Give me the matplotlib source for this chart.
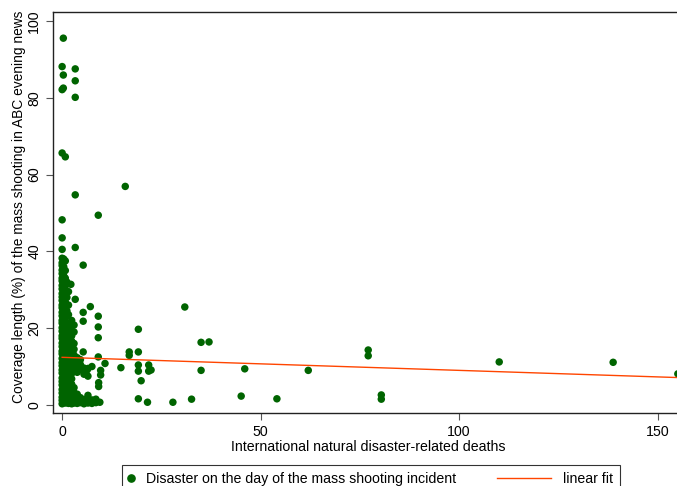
import numpy as np
import matplotlib
matplotlib.use("Agg")
import matplotlib.pyplot as plt
from matplotlib.lines import Line2D
from matplotlib.legend_handler import HandlerBase

plt.rcParams['font.family'] = ['Liberation Sans', 'DejaVu Sans']

# scattered points (deaths, coverage %)
outlier_x = [0.3, 0.0, 3.3, 0.3, 3.3, 0.3, 0.0, 3.3, 0.0, 0.8, 15.9, 3.3, 0.0, 9.1, 0.0, 3.3, 0.0,
             5.3, 2.2, 3.3, 7.1, 5.3, 5.3, 9.1, 9.1, 9.1, 5.3, 9.1, 10.8, 9.7, 9.7, 6.3, 9.2, 9.2,
             9.5, 14.8, 16.9, 16.9, 19.2, 19.2, 19.2, 19.2, 19.9, 19.2, 21.5, 21.8, 22.4, 21.8,
             27.9, 30.9, 32.6, 35.0, 37.0, 35.0, 45.1, 46.0, 54.1, 62.0, 77.1, 77.1, 80.4, 80.4,
             110.1, 138.8, 155.1]
outlier_y = [95.5, 88.1, 87.5, 85.9, 84.4, 82.5, 82.1, 80.1, 65.6, 64.6, 56.9, 54.7, 48.2, 49.4, 43.5, 41.0, 40.5,
             36.4, 31.4, 27.5, 25.6, 24.1, 21.8, 23.1, 20.3, 17.5, 13.8, 12.5, 10.8, 9.0, 7.8, 9.1, 5.8, 4.8,
             0.7, 9.7, 13.8, 12.9, 19.7, 13.8, 10.4, 8.8, 6.3, 1.6, 0.7, 10.4, 9.1, 8.8,
             0.7, 25.5, 1.5, 16.3, 16.4, 9.0, 2.3, 9.4, 1.6, 9.0, 14.3, 12.8, 2.6, 1.5,
             11.2, 11.1, 8.1]

# dense cluster near zero deaths, column by column
cluster = {
    0.0: [0.3, 1.2, 2.0, 3.1, 4.0, 5.2, 6.1, 7.0, 8.3, 9.1, 10.2, 11.0, 12.1, 13.3, 14.0, 15.2, 16.1,
          17.3, 18.0, 19.2, 20.1, 21.3, 22.0, 23.2, 24.1, 25.3, 26.0, 27.2, 28.1, 29.0, 30.2, 31.1,
          32.3, 33.0, 34.2, 35.1, 36.3, 37.0, 38.2],
    0.4: [0.8, 2.5, 4.8, 6.6, 9.5, 11.6, 13.7, 16.5, 19.0, 21.8, 24.6, 27.5, 30.5, 33.6, 36.0, 38.0],
    0.8: [0.5, 1.8, 3.0, 4.4, 5.8, 7.2, 8.6, 10.0, 11.4, 12.8, 14.2, 15.6, 17.0, 18.4, 19.8, 21.2,
          22.6, 24.0, 25.4, 26.8, 28.2, 29.6, 31.0, 33.0, 35.0, 37.5],
    1.2: [1.0, 3.5, 6.2, 9.0, 12.0, 15.0, 18.0, 21.0, 24.5, 28.0, 32.0],
    1.6: [0.4, 1.6, 2.8, 4.2, 5.6, 7.0, 8.4, 9.8, 11.2, 12.6, 14.0, 15.4, 16.8, 18.2, 19.6, 21.0,
          23.5, 26.0, 29.5],
    2.0: [0.8, 3.4, 6.1, 9.0, 12.0, 14.6, 17.4, 20.0],
    2.4: [0.3, 1.5, 2.7, 4.0, 5.4, 6.8, 8.2, 9.6, 11.0, 12.4, 13.8, 15.2, 16.6, 18.0, 20.5, 22.0],
    3.0: [0.5, 1.8, 3.2, 4.5, 9.0, 10.3, 11.8, 13.0, 14.5, 16.0, 19.0, 20.8],
    3.8: [0.4, 1.6, 2.8, 8.5, 9.8, 11.0, 12.3],
    4.6: [0.6, 1.9, 9.2, 10.5, 11.8],
    5.5: [0.3, 1.4, 8.0, 9.6],
    6.5: [0.5, 1.2, 2.5, 7.5, 9.5],
    7.5: [0.4, 1.3, 10.0],
    8.5: [0.6, 1.5],
}

fit_intercept = 12.4
fit_slope = -0.034

xs = list(outlier_x)
ys = list(outlier_y)
for cx, cy in cluster.items():
    xs += [cx] * len(cy)
    ys += cy

green = '#006400'
red = '#ff4500'
fs = 10.2


class MarkerLeft(HandlerBase):
    def create_artists(self, legend, orig_handle, xdescent, ydescent, width, height, fontsize, trans):
        m = Line2D([-xdescent + 1.5], [height / 2 - ydescent], marker='o', ls='none',
                   color=green, markersize=5.2, transform=trans)
        return [m]


class LineLeft(HandlerBase):
    def create_artists(self, legend, orig_handle, xdescent, ydescent, width, height, fontsize, trans):
        end = width - xdescent - 2.5
        l = Line2D([end - 38.9, end], [height / 2 - ydescent] * 2, color=red, lw=1.0, transform=trans)
        return [l]


fig = plt.figure(figsize=(6.77, 4.86), dpi=100)
ax = fig.add_axes([0.0783, 0.1502, 0.93, 0.825])

ax.scatter(xs, ys, s=29, color=green, edgecolors='none', zorder=3)

fx = np.array([0.0, 156.5])
ax.plot(fx, fit_intercept + fit_slope * fx, color=red, lw=1.0, zorder=4)

ax.set_xlim(-2.3, 156.3)
ax.set_ylim(-2.1, 102.3)
ax.set_xticks([0, 50, 100, 150])
ax.set_yticks([0, 20, 40, 60, 80, 100])
ax.tick_params(axis='both', direction='out', length=5, width=0.8, color='#555555', labelsize=fs)
for lab in ax.get_yticklabels():
    lab.set_rotation(90)
    lab.set_va('center')
ax.spines['right'].set_visible(False)
for s in ['left', 'top', 'bottom']:
    ax.spines[s].set_linewidth(1.0)
    ax.spines[s].set_color('#222222')

ax.set_xlabel('International natural disaster-related deaths', fontsize=fs, labelpad=1)
ax.set_ylabel('Coverage length (%) of the mass shooting in ABC evening news', fontsize=9.9, labelpad=1)
ax.yaxis.label.set_y(0.515)

h_dot = Line2D([], [], marker='o', ls='none', color=green)
h_line = Line2D([], [], color=red)
leg = fig.legend([h_dot, h_line], ['Disaster on the day of the mass shooting incident', 'linear fit'],
                 handler_map={h_dot: MarkerLeft(), h_line: LineLeft()},
                 loc='center', bbox_to_anchor=(0.548, 0.014), ncol=2, fontsize=fs,
                 frameon=True, fancybox=False, edgecolor='black', columnspacing=6.4,
                 handlelength=0.6, handletextpad=0.6, borderpad=0.5, borderaxespad=0)
leg.get_frame().set_linewidth(0.8)

fig.savefig('out.png', dpi=100)
